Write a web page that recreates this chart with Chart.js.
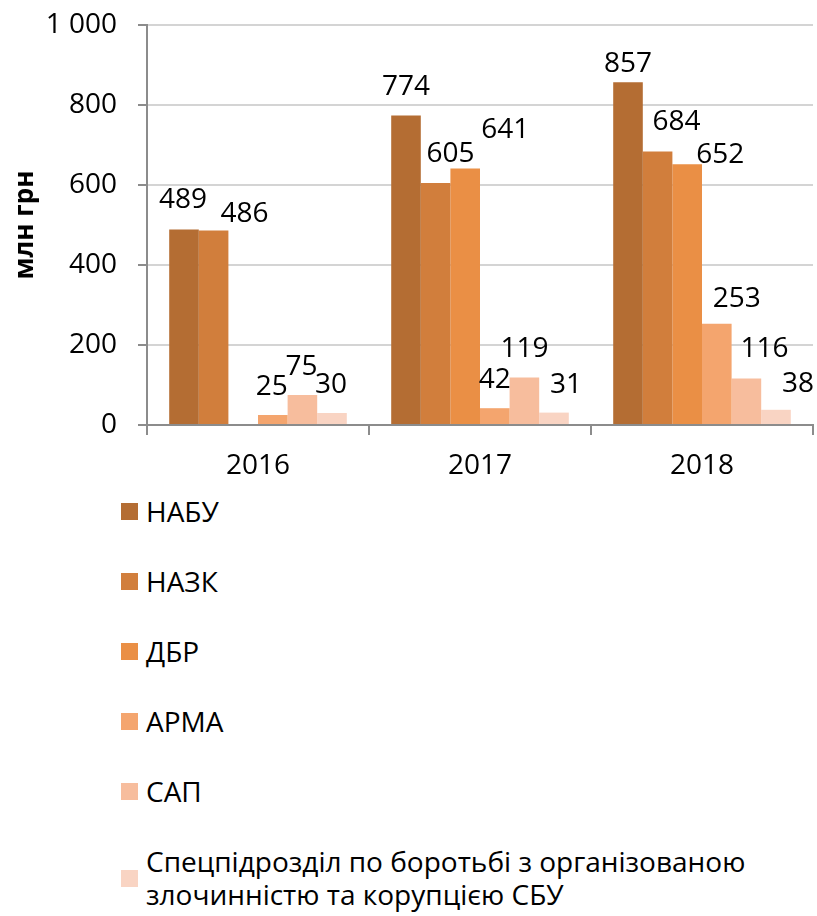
<!DOCTYPE html>
<html>
<head>
<meta charset="utf-8">
<title>Фінансування антикорупційних органів</title>
<script src="https://cdn.jsdelivr.net/npm/chart.js@4.4.0/dist/chart.umd.min.js"></script>
<style>
  body { margin: 0; background: #fff; font-family: "Open Sans", sans-serif; }
  #wrap { position: relative; width: 817px; height: 916px; }
  #barChart { position: absolute; left: 0; top: 0; }
  #legend { position: absolute; left: 121px; top: 495px; margin: 0; padding: 0; list-style: none; }
  #legend li { display: flex; align-items: center; margin-bottom: 37px; font-size: 28px; line-height: 33px; color: #000; }
  #legend .key { width: 17px; height: 17px; flex: none; margin-right: 8px; }
  #legend .txt { max-width: 620px; }
</style>
</head>
<body>
<div id="wrap">
  <canvas id="barChart" width="817" height="490"></canvas>
  <ul id="legend"></ul>
</div>
<script>
"use strict"

var years = ["2016", "2017", "2018"];
var nabu = [489, 774, 857];
var nazk = [486, 605, 684];
var dbr = [null, 641, 652];
var arma = [25, 42, 253];
var sap = [75, 119, 116];
var sbu = [30, 31, 38];
var yTicks = [0, 200, 400, 600, 800, 1000];

// where Excel pushed the value labels (dx, dy from bar top), one row per series
var labelNudge = [
  [[-1, 31], [0, 30], [0, 20]],
  [[31, 19], [15, 31], [19, 31]],
  [[0, 30], [40, 41], [33, 11]],
  [[-1, 30], [0, 30], [20, 27]],
  [[-1, 30], [0, 30], [18, 32]],
  [[-1, 30], [12, 30], [22, 28]]
];

var valueLabels = {
  id: 'valueLabels',
  afterDatasetsDraw: function(chart) {
    var ctx = chart.ctx;
    ctx.save();
    ctx.font = '28px "Open Sans"';
    ctx.fillStyle = '#000';
    ctx.textAlign = 'center';
    ctx.textBaseline = 'alphabetic';
    chart.data.datasets.forEach(function(ds, i) {
      chart.getDatasetMeta(i).data.forEach(function(bar, j) {
        var v = ds.data[j];
        if (v === null) return;
        var n = labelNudge[i][j];
        ctx.fillText(String(v), bar.x + n[0], bar.y - n[1] + 10);
      });
    });
    ctx.restore();
  }
};

var ctxB = document.getElementById("barChart").getContext('2d');
var myBarChart = new Chart(ctxB, {
  type: 'bar',
  data: {
    labels: years,
    datasets: [
      { label: "НАБУ", data: nabu, backgroundColor: "#B46D33" },
      { label: "НАЗК", data: nazk, backgroundColor: "#D17E3C" },
      { label: "ДБР", data: dbr, backgroundColor: "#EA8F45" },
      { label: "АРМА", data: arma, backgroundColor: "#F4A56E" },
      { label: "САП", data: sap, backgroundColor: "#F7BD9D" },
      { label: "Спецпідрозділ по боротьбі з організованою злочинністю та корупцією СБУ", data: sbu, backgroundColor: "#F9D4C3" }
    ]
  },
  options: {
    responsive: false,
    animation: false,
    layout: { padding: { top: 25, right: 4, left: 0, bottom: 0 } },
    plugins: {
      legend: { display: false },
      tooltip: { enabled: false }
    },
    datasets: { bar: { categoryPercentage: 0.8, barPercentage: 1.0 } },
    scales: {
      x: {
        afterFit: function(scale) { scale.height = 65; },
        grid: { offset: true, drawOnChartArea: false, tickLength: 10, tickColor: '#8C8C8C', lineWidth: 2 },
        border: { color: '#8C8C8C', width: 2 },
        ticks: { color: '#000', padding: 14, font: { family: 'Open Sans', size: 28 } }
      },
      y: {
        min: 0,
        max: 1000,
        afterFit: function(scale) {
          scale.width = 147;
          // don't let the "1 000" label push the plot down
          scale.paddingTop = 0;
          scale.paddingBottom = 0;
        },
        afterBuildTicks: function(scale) {
          scale.ticks = yTicks.map(function(v) { return { value: v }; });
        },
        grid: { color: '#D4D4D4', lineWidth: 2, tickLength: 9, tickColor: '#8C8C8C' },
        border: { color: '#8C8C8C', width: 2 },
        ticks: {
          color: '#000',
          padding: 21,
          font: { family: 'Open Sans', size: 28 },
          callback: function(v) { return String(v).replace(/\B(?=(\d{3})+(?!\d))/g, ' '); }
        },
        title: {
          display: true,
          text: 'млн грн',
          color: '#000',
          padding: { top: 10, bottom: 0 },
          font: { family: 'Open Sans', size: 26, weight: 'bold' }
        }
      }
    }
  },
  plugins: [valueLabels]
});

// html legend, one row per series like the original
var ul = document.getElementById('legend');
myBarChart.data.datasets.forEach(function(ds) {
  var li = document.createElement('li');
  li.innerHTML = '<span class="key" style="background:' + ds.backgroundColor + '"></span><span class="txt">' + ds.label + '</span>';
  ul.appendChild(li);
});
</script>
</body>
</html>
